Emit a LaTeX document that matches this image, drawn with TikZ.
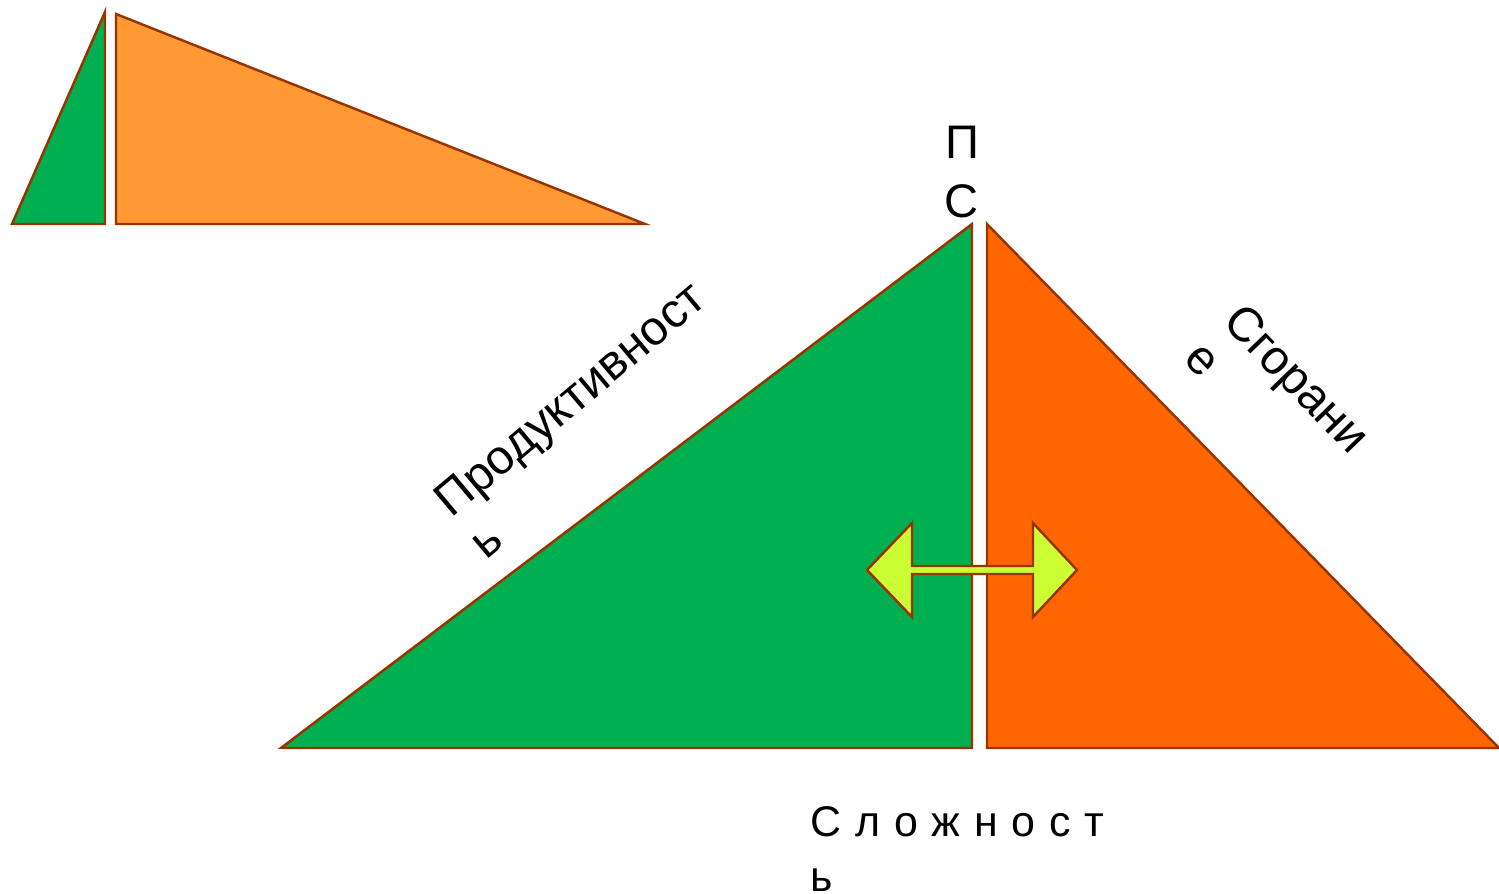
\documentclass[tikz,border=0pt]{standalone}
\usepackage{fontspec}
\setmainfont{Liberation Sans}
\newfontfamily\spacedfont[LetterSpace=32]{Liberation Sans}
\definecolor{edgebrown}{RGB}{153,51,0}
\definecolor{leafgreen}{RGB}{0,176,80}
\definecolor{lightorange}{RGB}{255,153,51}
\definecolor{deeporange}{RGB}{255,102,0}
\definecolor{limeyellow}{RGB}{204,255,51}
\tikzset{
  piece/.style={draw=edgebrown, line width=0.7pt, line join=miter},
  sidetext/.style={font=\fontsize{13.7}{15.4}\selectfont, align=left, inner sep=0pt},
  toptext/.style={font=\fontsize{13.4}{16.5}\selectfont, align=center, inner sep=0pt},
  basetext/.style={font=\spacedfont\fontsize{12.2}{15.6}\selectfont, align=left, inner sep=0pt}
}
\begin{document}
\begin{tikzpicture}[x=0.01cm, y=-0.01cm]
  \useasboundingbox (0,0) rectangle (1499,893);
  % small pair
  \fill[leafgreen, piece] (12,224) -- (105,12) -- (105,224) -- cycle;
  \fill[lightorange, piece] (116,14) -- (116,224) -- (645,224) -- cycle;
  % large pair
  \fill[leafgreen, piece] (281,748) -- (972,224) -- (972,748) -- cycle;
  \fill[deeporange, piece] (987,224) -- (987,748) -- (1499,748) -- cycle;
  % double arrow
  \fill[limeyellow, piece] (867,570) -- (912,523) -- (912,566) -- (1033,566) -- (1033,523)
    -- (1077,570) -- (1033,617) -- (1033,574) -- (912,574) -- (912,617) -- cycle;
  % texts
  \node (ps) [toptext] at (962,172) {П\\С};
  \node (prod) [sidetext, rotate=40] at (587,419) {Продуктивност\\ь};
  \node (burn) [sidetext, rotate=-46] at (1278,397) {Сгорани\\е};
  \node (compl) [basetext, anchor=west] at (810,849) {Сложност\\ь};
\end{tikzpicture}
\end{document}
